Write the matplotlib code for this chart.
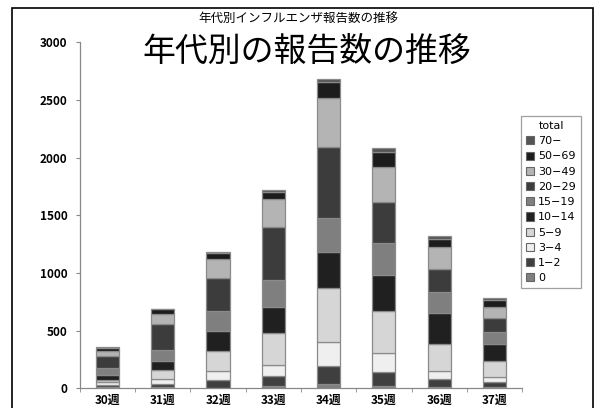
#!/usr/bin/env python3
import numpy as np
import matplotlib
matplotlib.use("Agg")
import matplotlib.pyplot as plt
from matplotlib.patches import Rectangle, Patch

plt.rcParams["font.family"] = ["Noto Sans CJK JP", "DejaVu Sans"]

weeks = ["30週", "31週", "32週", "33週", "34週", "35週", "36週", "37週"]
groups = ["0", "1-2", "3-4", "5-9", "10-14", "15-19", "20-29", "30-49", "50-69", "70-"]
legend_labels = ["0", "1−2", "3−4", "5−9", "10−14", "15−19", "20−29", "30−49", "50−69", "70−"]

# counts per age group, one value per week (30..37)
age_0 = [9, 9, 6, 20, 38, 23, 9, 9]
age_1_2 = [20, 29, 64, 87, 156, 121, 69, 49]
age_3_4 = [23, 40, 81, 95, 205, 162, 72, 43]
age_5_9 = [20, 81, 176, 275, 474, 367, 234, 136]
age_10_14 = [43, 81, 171, 225, 312, 312, 272, 145]
age_15_19 = [58, 92, 176, 237, 295, 272, 182, 104]
age_20_29 = [107, 223, 280, 462, 610, 356, 197, 121]
age_30_49 = [46, 90, 168, 240, 428, 309, 188, 101]
age_50_69 = [26, 40, 49, 64, 136, 124, 72, 58]
age_70 = [4, 5, 9, 14, 29, 38, 26, 14]

series = [age_0, age_1_2, age_3_4, age_5_9, age_10_14,
          age_15_19, age_20_29, age_30_49, age_50_69, age_70]
colors = ["#7f7f7f", "#3f3f3f", "#efefef", "#d6d6d6", "#202020",
          "#7f7f7f", "#3c3c3c", "#b4b4b4", "#1c1c1c", "#555555"]

fig = plt.figure(figsize=(6.01, 4.08), dpi=100)
ax = fig.add_axes([0.133, 0.0483, 0.7356, 0.848])

x = np.arange(len(weeks))
bottom = np.zeros(len(weeks))
for vals, c in zip(series, colors):
    v = np.array(vals, dtype=float)
    ax.bar(x, v, width=0.42, bottom=bottom, color=c, edgecolor="#8a8a8a", linewidth=0.9)
    bottom += v

ax.set_xlim(-0.5, len(weeks) - 0.5)
ax.set_ylim(0, 3000)
ax.set_yticks([0, 500, 1000, 1500, 2000, 2500, 3000])
ax.set_xticks(x)
ax.set_xticklabels(weeks, fontsize=8.5, fontweight="bold")
ax.set_xticks(np.arange(-0.5, len(weeks)), minor=True)
ax.tick_params(axis="x", which="major", length=0, pad=4)
ax.tick_params(axis="x", which="minor", length=3, color="#888888", direction="out")
ax.tick_params(axis="y", length=3, color="#888888", labelsize=8.5, pad=6)
for lab in ax.get_yticklabels():
    lab.set_fontweight("bold")
for s in ["top", "right"]:
    ax.spines[s].set_visible(False)
for s in ["left", "bottom"]:
    ax.spines[s].set_color("#888888")
    ax.spines[s].set_linewidth(0.9)

# titles
fig.text(298 / 601, 1 - 18 / 408, "年代別インフルエンザ報告数の推移", ha="center", va="center", fontsize=9)
fig.text(307 / 601, 1 - 52 / 408, "年代別の報告数の推移", ha="center", va="center", fontsize=23.7)

# legend
handles = [Patch(facecolor=c, edgecolor="#666666", linewidth=0.8) for c in colors][::-1]
leg = fig.legend(handles, legend_labels[::-1], title="total", loc="upper left",
                 bbox_to_anchor=(521 / 601, 1 - 116 / 408),
                 prop={"family": "DejaVu Sans", "size": 8},
                 frameon=True, fancybox=False, handlelength=0.75, handleheight=0.75,
                 handletextpad=0.35, labelspacing=0.47, borderpad=0.45, borderaxespad=0)
leg.get_title().set_fontfamily("DejaVu Sans")
leg.get_title().set_fontsize(8)
leg.get_frame().set_edgecolor("#888888")
leg.get_frame().set_linewidth(0.9)

# outer frame
fig.patches.append(Rectangle((12 / 601, -0.05), 581 / 601, 1.05 - 8 / 408,
                             transform=fig.transFigure, fill=False,
                             edgecolor="black", linewidth=1.2))

fig.savefig("out.png", dpi=100)
